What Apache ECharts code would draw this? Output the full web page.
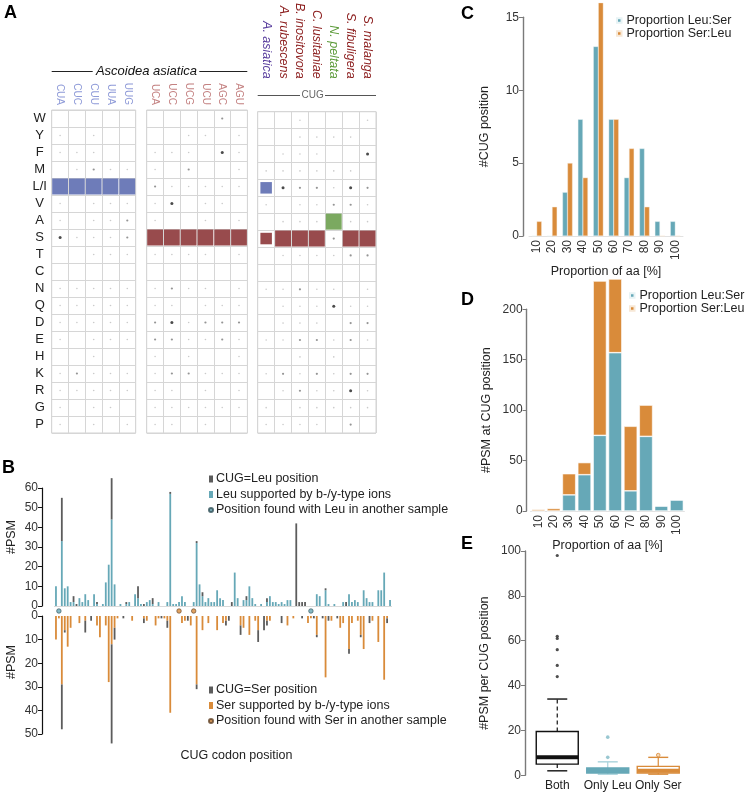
<!DOCTYPE html>
<html>
<head>
<meta charset="utf-8">
<script src="https://cdn.jsdelivr.net/npm/echarts@6.0.0/dist/echarts.min.js"></script>
<style>
html, body { margin: 0; padding: 0; background: #fff; }
#chart { width: 745px; height: 793px; }
</style>
</head>
<body>
<div id="chart"></div>
<script>
// ---------- A: amino acids seen at each codon ----------
const aminoAcids = ['W','Y','F','M','L/I','V','A','S','T','C','N','Q','D','E','H','K','R','G','P'];
const leuCodons = ['CUA','CUC','CUU','UUA','UUG'];
const serCodons = ['UCA','UCC','UCG','UCU','AGC','AGU'];
const species = ['A. asiatica','A. rubescens','B. inositovora','C. lusitaniae','N. peltata','S. fibuligera','S. malanga'];
// 0 = nothing, 1..3 = dot strength, B/R/G = whole cell, b/r = small cell
const leuCodonHits = ['00000','10100','11100','01211','BBBBB','10111','10112','31112','00111','00000',
  '11111','11111','11111','10111','00100','12111','11111','10110','10101'];
const serCodonHits = ['000020','001101','111031','102001','211111','130110','100101','RRRRRR','111101','000000',
  '121101','110111','231222','221121','101001','122111','110101','111111','110100'];
const cugHits = ['0010001','0011110','0111003','1111110','b322132','1011221','0111G11','rRRR2RR','0111122','0000000',
  '1121101','0111311','0111022','1122121','0010100','1212122','0121131','1011111','1111020'];

// ---------- B: PSM per CUG position ----------
const leuTotal = [10,0,55,9,10,2,5,1,4,2, 6,3,0,6,2,0,1,12,21,65, 11,0,1,0,2,2,0,6,10,1, 1,2,3,4,0,2,0,0,2,58,
  1,1,2,5,2,0,0,2,33,11, 7,2,4,2,2,8,4,3,0,0, 2,17,4,0,3,5,10,4,1,0, 1,0,4,5,2,2,1,2,1,3,
  3,0,42,2,2,2,0,0,0,6, 5,0,9,1,0,1,0,0,2,2, 6,2,3,2,0,8,4,2,2,0, 8,8,17,0,3];
const leuIons = [10,0,33,9,10,2,2,0,4,2, 6,3,0,6,1,0,1,12,21,44, 11,0,1,0,1,2,0,6,4,1, 0,2,3,1,0,2,0,0,2,57,
  1,1,2,5,2,0,0,2,32,11, 5,2,4,2,2,8,4,3,0,0, 0,17,4,0,3,3,10,4,1,0, 1,0,2,5,2,2,1,2,1,3,
  3,0,0,0,0,0,0,0,0,6, 5,0,8,1,0,1,0,0,2,0, 6,2,3,2,0,8,4,2,2,0, 8,8,17,0,3];
const serTotal = [10,1,48,7,13,5,0,0,3,0, 7,0,2,0,4,9,0,4,28,54, 10,1,0,1,0,0,2,0,0,0, 3,2,0,0,4,1,1,1,5,41,
  0,0,0,3,2,2,4,0,31,0, 6,0,3,0,0,6,0,3,4,2, 0,0,0,8,5,0,8,0,2,11, 0,6,4,2,0,0,0,3,0,4,
  0,1,0,0,1,0,3,1,1,9, 0,1,26,2,2,0,1,5,3,0, 16,3,0,2,9,14,0,3,2,0, 11,0,27,3,0];
const serIons = [10,1,29,6,13,5,0,0,3,0, 2,0,0,0,4,9,0,4,28,12, 5,1,0,0,0,0,2,0,0,0, 1,2,0,0,4,1,0,1,2,41,
  0,0,0,3,2,0,4,0,29,0, 6,0,3,0,0,6,0,3,2,0, 0,0,0,4,5,0,8,0,2,6, 0,0,2,2,0,0,0,0,0,4,
  0,1,0,0,0,0,3,1,0,8, 0,0,26,0,2,0,0,5,3,0, 14,3,0,2,8,14,0,0,2,0, 11,0,27,1,0];
const leuOtherSample = [1, 87];
const serOtherSample = [42, 47];
const cugPositions = leuTotal.map((_, i) => String(i + 1));

// ---------- C, D ----------
const proportionBins = ['10','20','30','40','50','60','70','80','90','100'];
const cugLeuSer = [0,0,3,8,13,8,4,6,1,1];
const cugSerLeu = [1,2,5,4,16,8,6,2,0,0];
const psmLeuSer = [0,0,16,36,75,157,20,74,5,11];
const psmSerLeu = [1.5,2.5,21,12,153,73,64,31,0,0];

// ---------- E ----------
const boxGroups = ['Both','Only Leu','Only Ser'];
// min, Q1, median, Q3, max
const boxStats = [[2,5,8,19.5,34],[0.5,1,2,3.3,6],[0.5,1,2,4,8]];
const bothOutliers = [44,49,56,61,62,98];
const leuOutliers = [8,17];
const serOutliers = [9];

const FONT = "'Liberation Sans', Arial, sans-serif";
const TEAL = '#66a8b7', ORANGE = '#d98b3a', DARK = '#5c5c5c';

const dotLook = {
  '1': { size: 1.6, color: '#bdbdbd' },
  '2': { size: 2.2, color: '#7a7a7a' },
  '3': { size: 3, color: '#1e1e1e' }
};
const fillLook = {
  B: { color: '#4a5ba8' }, R: { color: '#7e1e20' }, G: { color: '#5a9338' },
  b: { color: '#4a5ba8', inset: true }, r: { color: '#7e1e20', inset: true }
};

const rowH = 17;
const aBlocks = [
  { left: 51.7, width: 84, cols: leuCodons, hits: leuCodonHits, margin: 5, size: 10, italic: false, color: () => '#8f9bd8' },
  { left: 146.7, width: 100.7, cols: serCodons, hits: serCodonHits, margin: 5, size: 10, italic: false, color: () => '#c48282' },
  { left: 257.7, width: 118.3, cols: species, hits: cugHits, margin: 33, size: 12.5, italic: true,
    color: (v, i) => ['#5a3f9e','#8b1c1c','#8b1c1c','#8b1c1c','#5c9b3a','#8b1c1c','#8b1c1c'][i] }
];

function marks(block) {
  const colW = block.width / block.cols.length;
  const dots = [], fills = [];
  block.hits.forEach((row, r) => {
    row.split('').forEach((ch, c) => {
      if (ch === '0') return;
      if (dotLook[ch]) {
        dots.push({ value: [c, r], symbolSize: dotLook[ch].size, itemStyle: { color: dotLook[ch].color } });
      } else {
        const f = fillLook[ch];
        fills.push({ value: [c, r], symbolSize: f.inset ? [11.5, 11.5] : [colW - 1, rowH - 1], itemStyle: { color: f.color } });
      }
    });
  });
  return { dots, fills };
}

const grids = [], xAxes = [], yAxes = [], series = [];

aBlocks.forEach((b, g) => {
  grids.push({ left: b.left, top: 110, width: b.width, height: 323, show: true, borderColor: '#d3d3d3', borderWidth: 1 });
  xAxes.push({
    gridIndex: g, type: 'category', data: b.cols, position: 'top',
    axisLine: { show: false }, axisTick: { show: false },
    splitLine: { show: true, interval: 0, lineStyle: { color: '#d6d6d6' } },
    axisLabel: { interval: 0, rotate: 90, margin: b.margin, fontSize: b.size, fontStyle: b.italic ? 'italic' : 'normal', color: b.color }
  });
  yAxes.push({
    gridIndex: g, type: 'category', data: aminoAcids, inverse: true,
    axisLine: { show: false }, axisTick: { show: false },
    splitLine: { show: true, interval: 0, lineStyle: { color: '#d6d6d6' } },
    axisLabel: g === 0 ? { interval: 0, fontSize: 13, color: '#222', align: 'center', margin: 12 } : { show: false }
  });
  const m = marks(b);
  series.push({ type: 'scatter', xAxisIndex: g, yAxisIndex: g, symbol: 'rect', data: m.fills, silent: true });
  series.push({ type: 'scatter', xAxisIndex: g, yAxisIndex: g, symbol: 'circle', data: m.dots, silent: true });
});

// B grids: 3 = Leu (up), 4 = dots row, 5 = Ser (down)
grids.push({ left: 54.5, width: 337, top: 488, height: 118 });
grids.push({ left: 54.5, width: 337, top: 606, height: 10 });
grids.push({ left: 54.5, width: 337, top: 616, height: 118 });
xAxes.push({ gridIndex: 3, type: 'category', data: cugPositions, axisTick: { show: false }, axisLabel: { show: false },
  axisLine: { lineStyle: { color: '#d5d5d5', type: 'dotted' } } });
xAxes.push({ gridIndex: 4, type: 'category', data: cugPositions, show: false });
xAxes.push({ gridIndex: 5, type: 'category', data: cugPositions, position: 'bottom', axisLine: { show: false },
  axisTick: { show: false }, axisLabel: { show: false },
  name: 'CUG codon position', nameLocation: 'middle', nameGap: 15,
  nameTextStyle: { fontSize: 12.5, color: '#222', padding: [0, 0, 0, 27] } });
const bY = (g, max, inverse, pad) => ({
  gridIndex: g, type: 'value', min: 0, max: max, interval: 10, inverse: inverse, offset: 12.5,
  splitLine: { show: false },
  axisLine: { show: true, lineStyle: { color: '#111', width: 1.2 } },
  axisTick: { show: true, length: 4, lineStyle: { color: '#111' } },
  axisLabel: { fontSize: 12, color: '#333', margin: 4 },
  name: '#PSM', nameLocation: 'middle', nameGap: 24,
  nameTextStyle: { fontSize: 12.5, color: '#222', padding: [0, 0, 0, pad] }
});
yAxes.push(bY(3, 60, false, 20));
yAxes.push({ gridIndex: 4, type: 'value', min: 0, max: 1, show: false });
yAxes.push(bY(5, 50, true, 26));

series.push({ name: 'Leu supported by b-/y-type ions', type: 'bar', xAxisIndex: 3, yAxisIndex: 3, stack: 'leu',
  barWidth: 1.8, clip: false, itemStyle: { color: TEAL }, data: leuIons });
series.push({ name: 'CUG=Leu position', type: 'bar', xAxisIndex: 3, yAxisIndex: 3, stack: 'leu',
  barWidth: 1.8, clip: false, itemStyle: { color: DARK }, data: leuTotal.map((t, i) => t - leuIons[i]) });
series.push({ name: 'Ser supported by b-/y-type ions', type: 'bar', xAxisIndex: 5, yAxisIndex: 5, stack: 'ser',
  barWidth: 1.8, clip: false, itemStyle: { color: ORANGE }, data: serIons });
series.push({ name: 'CUG=Ser position', type: 'bar', xAxisIndex: 5, yAxisIndex: 5, stack: 'ser',
  barWidth: 1.8, clip: false, itemStyle: { color: DARK }, data: serTotal.map((t, i) => t - serIons[i]) });
series.push({ name: 'Position found with Leu in another sample', type: 'scatter', xAxisIndex: 4, yAxisIndex: 4,
  symbolSize: 4.5, itemStyle: { color: TEAL, borderColor: '#2f4f56', borderWidth: 0.8 },
  data: leuOtherSample.map(i => [i, 0.5]) });
series.push({ name: 'Position found with Ser in another sample', type: 'scatter', xAxisIndex: 4, yAxisIndex: 4,
  symbolSize: 4.5, itemStyle: { color: ORANGE, borderColor: '#5e4026', borderWidth: 0.8 },
  data: serOtherSample.map(i => [i, 0.5]) });

// C (6), D (7), E (8)
grids.push({ left: 529, width: 154, top: 17.3, height: 218.7 });
grids.push({ left: 530.6, width: 153.8, top: 309.3, height: 201.7 });
grids.push({ left: 532, width: 151.5, top: 551, height: 224.3 });

const binAxis = (g, gap) => ({
  gridIndex: g, type: 'category', data: proportionBins,
  axisLine: { lineStyle: { color: '#e2e2e2' } }, axisTick: { show: false },
  axisLabel: { interval: 0, rotate: 90, fontSize: 12, color: '#333', margin: 4 },
  name: 'Proportion of aa [%]', nameLocation: 'middle', nameGap: gap,
  nameTextStyle: { fontSize: 12.5, color: '#222' }
});
const valAxis = (g, max, interval, offset, name, gap) => ({
  gridIndex: g, type: 'value', min: 0, max: max, interval: interval, offset: offset,
  splitLine: { show: false },
  axisLine: { show: true, lineStyle: { color: '#7a7a7a', width: 1.4 } },
  axisTick: { show: true, length: 4, lineStyle: { color: '#7a7a7a' } },
  axisLabel: { fontSize: 12, color: '#333', margin: 4 },
  name: name, nameLocation: 'middle', nameGap: gap,
  nameTextStyle: { fontSize: 12.5, color: '#222' }
});
xAxes.push(binAxis(6, 29));
yAxes.push(valAxis(6, 15, 5, 6, '#CUG position', 32));
xAxes.push(binAxis(7, 23.5));
yAxes.push(valAxis(7, 200, 50, 4, '#PSM at CUG position', 34));
xAxes.push({ gridIndex: 8, type: 'category', data: boxGroups, axisLine: { show: false }, axisTick: { show: false },
  axisLabel: { interval: 0, fontSize: 12, color: '#222', margin: 4 } });
yAxes.push(valAxis(8, 100, 20, 7, '#PSM per CUG position', 34));

series.push({ name: 'Proportion Leu:Ser', type: 'bar', xAxisIndex: 6, yAxisIndex: 6, barWidth: 5, barGap: '0%',
  clip: false, itemStyle: { color: TEAL, borderColor: '#e8f3f5', borderWidth: 0.4 }, data: cugLeuSer });
series.push({ name: 'Proportion Ser:Leu', type: 'bar', xAxisIndex: 6, yAxisIndex: 6, barWidth: 5, barGap: '0%',
  clip: false, itemStyle: { color: ORANGE, borderColor: '#f7e8d6', borderWidth: 0.4 }, data: cugSerLeu });
series.push({ name: 'Proportion Leu:Ser', type: 'bar', xAxisIndex: 7, yAxisIndex: 7, stack: 'psm', barWidth: 13.3,
  clip: false, itemStyle: { color: TEAL, borderColor: '#ffffff', borderWidth: 0.6 }, data: psmLeuSer });
series.push({ name: 'Proportion Ser:Leu', type: 'bar', xAxisIndex: 7, yAxisIndex: 7, stack: 'psm', barWidth: 13.3,
  clip: false, itemStyle: { color: ORANGE, borderColor: '#ffffff', borderWidth: 0.6 }, data: psmSerLeu });

const boxLook = [
  { stroke: '#111', fill: '#fff', whisker: '#111', dash: [4, 3] },
  { stroke: TEAL, fill: TEAL, whisker: '#a8d2db', dash: null },
  { stroke: ORANGE, fill: '#fff', whisker: ORANGE, dash: null }
];
series.push({
  type: 'custom', xAxisIndex: 8, yAxisIndex: 8, silent: true,
  encode: { x: 0, y: [1, 2, 3, 4, 5] },
  data: boxStats.map((s, i) => [i].concat(s)),
  renderItem: function (params, api) {
    const i = api.value(0);
    const look = boxLook[i];
    const xc = api.coord([i, 0])[0];
    const y = k => api.coord([i, api.value(k)])[1];
    const yMin = y(1), yQ1 = y(2), yMed = y(3), yQ3 = y(4), yMax = y(5);
    const bw = 42, cap = 10;
    const line = (x1, y1, x2, y2, stroke, w, dash) => ({
      type: 'line', shape: { x1: x1, y1: y1, x2: x2, y2: y2 },
      style: { stroke: stroke, lineWidth: w, lineDash: dash || null }
    });
    return {
      type: 'group', children: [
        line(xc, yQ3, xc, yMax, look.whisker, 1.2, look.dash),
        line(xc, yQ1, xc, yMin, look.whisker, 1.2, look.dash),
        line(xc - cap, yMax, xc + cap, yMax, look.whisker, 1.4),
        line(xc - cap, yMin, xc + cap, yMin, look.whisker, 1.4),
        { type: 'rect', shape: { x: xc - bw / 2, y: yQ3, width: bw, height: yQ1 - yQ3 },
          style: { fill: look.fill, stroke: look.stroke, lineWidth: 1.4 } },
        line(xc - bw / 2, yMed, xc + bw / 2, yMed, look.stroke, 4)
      ]
    };
  }
});
series.push({ type: 'scatter', xAxisIndex: 8, yAxisIndex: 8, symbolSize: 3.2, silent: true,
  itemStyle: { color: '#222' }, data: bothOutliers.map(v => [0, v]) });
series.push({ type: 'scatter', xAxisIndex: 8, yAxisIndex: 8, symbolSize: 3.6, silent: true,
  itemStyle: { color: '#7fb9c6' }, data: leuOutliers.map(v => [1, v]) });
series.push({ type: 'scatter', xAxisIndex: 8, yAxisIndex: 8, symbolSize: 3.6, silent: true,
  itemStyle: { color: '#f3d1a8', borderColor: ORANGE, borderWidth: 1 }, data: serOutliers.map(v => [2, v]) });

const legendBase = { orient: 'vertical', padding: 0, itemGap: 2.5, selectedMode: false,
  textStyle: { fontSize: 12.5, color: '#222', padding: [0, 0, 0, -2] } };
const legends = [
  Object.assign({}, legendBase, { left: 208, top: 472.5, itemWidth: 4, itemHeight: 7,
    data: [{ name: 'CUG=Leu position', icon: 'rect' }, { name: 'Leu supported by b-/y-type ions', icon: 'rect' },
      { name: 'Position found with Leu in another sample', icon: 'circle' }] }),
  Object.assign({}, legendBase, { left: 208, top: 683.5, itemWidth: 4, itemHeight: 7,
    data: [{ name: 'CUG=Ser position', icon: 'rect' }, { name: 'Ser supported by b-/y-type ions', icon: 'rect' },
      { name: 'Position found with Ser in another sample', icon: 'circle' }] }),
  Object.assign({}, legendBase, { left: 616, top: 14, itemWidth: 4.5, itemHeight: 4.5, itemGap: 0,
    textStyle: { fontSize: 12.5, color: '#222', padding: [0, 0, 0, 0] },
    data: [{ name: 'Proportion Leu:Ser', icon: 'rect' }, { name: 'Proportion Ser:Leu', icon: 'rect' }] }),
  Object.assign({}, legendBase, { left: 629, top: 289, itemWidth: 4.5, itemHeight: 4.5, itemGap: 0,
    textStyle: { fontSize: 12.5, color: '#222', padding: [0, 0, 0, 0] },
    data: [{ name: 'Proportion Leu:Ser', icon: 'rect' }, { name: 'Proportion Ser:Leu', icon: 'rect' }] })
];

const letter = (t, x, y) => ({ type: 'text', left: x, top: y,
  style: { text: t, fontSize: 18, fontWeight: 'bold', fill: '#000', fontFamily: FONT } });
const rule = (x1, x2, y, color) => ({ type: 'line', shape: { x1: x1, y1: y, x2: x2, y2: y },
  style: { stroke: color, lineWidth: 1 } });
const graphics = [
  letter('A', 4, 4), letter('B', 2, 459), letter('C', 461, 5), letter('D', 461, 291), letter('E', 461, 535),
  rule(51.7, 92.7, 71.5, '#222'), rule(199.3, 247.3, 71.5, '#222'),
  { type: 'text', x: 146.5, y: 71, style: { text: 'Ascoidea asiatica', fontSize: 13, fontStyle: 'italic',
    fill: '#111', align: 'center', verticalAlign: 'middle', fontFamily: FONT } },
  rule(257.7, 300, 95.5, '#555'), rule(325, 376, 95.5, '#555'),
  { type: 'text', x: 312.7, y: 95.5, style: { text: 'CUG', fontSize: 10, fill: '#666',
    align: 'center', verticalAlign: 'middle', fontFamily: FONT } }
];

const chart = echarts.init(document.getElementById('chart'));
chart.setOption({
  backgroundColor: '#fff',
  animation: false,
  textStyle: { fontFamily: FONT },
  grid: grids,
  xAxis: xAxes,
  yAxis: yAxes,
  legend: legends,
  graphic: graphics,
  series: series
});
</script>
</body>
</html>
